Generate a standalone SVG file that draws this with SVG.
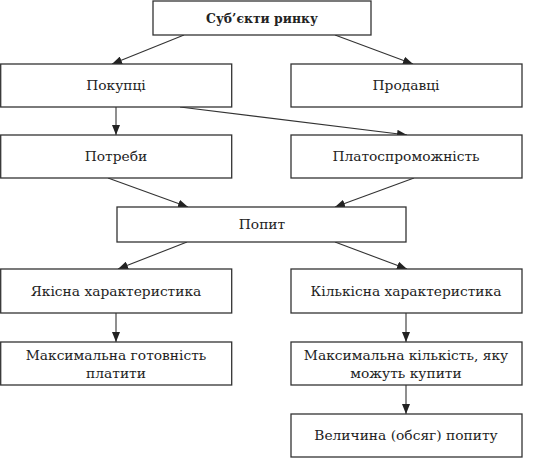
<svg xmlns="http://www.w3.org/2000/svg" width="540" height="460" viewBox="0 0 540 460">
<defs>
<marker id="ah" viewBox="0 0 10 8" refX="10" refY="4" markerWidth="10" markerHeight="8" markerUnits="userSpaceOnUse" orient="auto">
<path d="M0,0 L10,4 L0,8 Z" fill="#222"/>
</marker>
<style>
rect{fill:#fff;stroke:#333;stroke-width:1.3}
text{font-family:"DejaVu Serif","Liberation Serif",serif;font-size:13.8px;fill:#222;text-anchor:middle}
.b{font-weight:bold;font-size:12.4px}
.c line{stroke:#333;stroke-width:1.1;marker-end:url(#ah)}
</style>
</defs>
<rect x="-5" y="-5" width="550" height="470" style="fill:#fff;stroke:none"/>
<g class="c" id="connectors">
<line x1="184" y1="35" x2="112" y2="64"/>
<line x1="335" y1="35" x2="413" y2="64"/>
<line x1="116" y1="107" x2="116" y2="135"/>
<line x1="180" y1="107" x2="407" y2="135"/>
<line x1="108" y1="178" x2="188" y2="207"/>
<line x1="414" y1="178" x2="335" y2="207"/>
<line x1="187" y1="242" x2="118" y2="269"/>
<line x1="335" y1="242" x2="407" y2="269"/>
<line x1="116" y1="313" x2="116" y2="342"/>
<line x1="406" y1="313" x2="406" y2="342"/>
<line x1="406" y1="385" x2="406" y2="414"/>
</g>
<g id="subjects"><rect x="153" y="1" width="218" height="34"/><text x="262" y="23" class="b">Суб’єкти ринку</text></g>
<g id="buyers"><rect x="0.7" y="64" width="231" height="43"/><text x="116" y="90">Покупці</text></g>
<g id="sellers"><rect x="291" y="64" width="231" height="43"/><text x="406" y="90">Продавці</text></g>
<g id="needs"><rect x="0.7" y="135" width="231" height="43"/><text x="116" y="161">Потреби</text></g>
<g id="solvency"><rect x="291" y="135" width="231" height="43"/><text x="406" y="161">Платоспроможність</text></g>
<g id="demand"><rect x="117" y="207" width="289" height="35"/><text x="262" y="229">Попит</text></g>
<g id="quality"><rect x="0.7" y="269" width="231" height="44"/><text x="116" y="296">Якісна характеристика</text></g>
<g id="quantity"><rect x="291" y="269" width="231" height="44"/><text x="406" y="296">Кількісна характеристика</text></g>
<g id="willingness"><rect x="0.7" y="342" width="231" height="43"/><text x="116" y="360">Максимальна готовність</text><text x="116" y="378">платити</text></g>
<g id="maxqty"><rect x="291" y="342" width="231" height="43"/><text x="406" y="360">Максимальна кількість, яку</text><text x="406" y="378">можуть купити</text></g>
<g id="volume"><rect x="291" y="414" width="231" height="43"/><text x="406" y="440">Величина (обсяг) попиту</text></g>
</svg>
